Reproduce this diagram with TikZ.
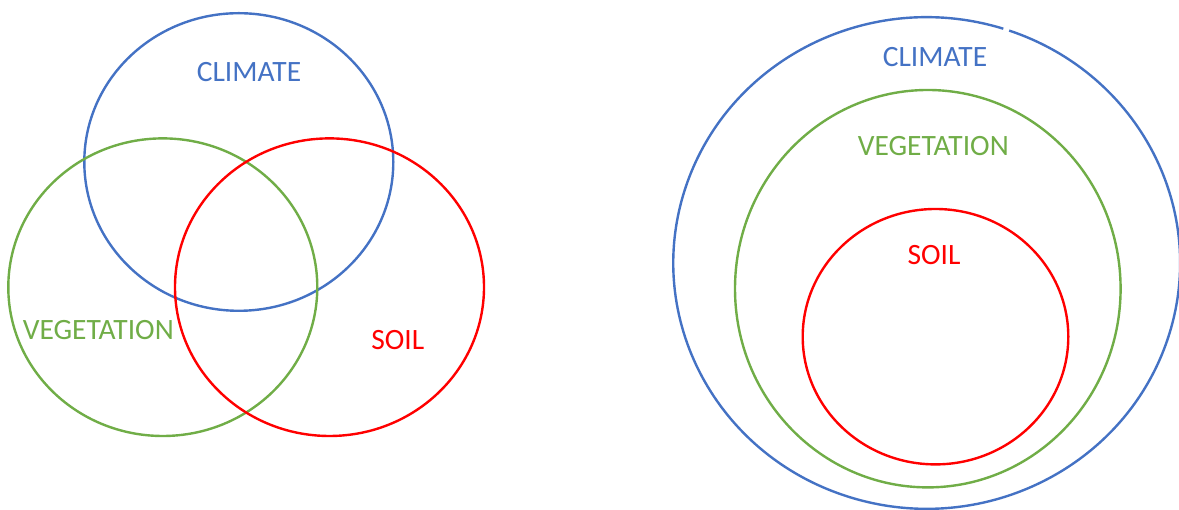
\documentclass[tikz,border=0pt]{standalone}
\usepackage{fontspec}
\setmainfont{Carlito}
\definecolor{cblue}{HTML}{4472C4}
\definecolor{cgreen}{HTML}{70AD47}
\definecolor{cred}{HTML}{FF0000}
\begin{document}
\begin{tikzpicture}[x=1pt,y=1pt,
  ring/.style={line width=2.4pt},
  lbl/.style={inner sep=0pt,font=\fontsize{29.5}{35}\selectfont}]
\useasboundingbox (0,0) rectangle (1179,510);
% left Venn diagram
\draw[ring,cblue] (238.8,348) ellipse [x radius=154.5, y radius=148.8];
\draw[ring,cgreen] (162.8,222.8) ellipse [x radius=154.5, y radius=148.8];
\draw[ring,cred] (329.5,222.8) ellipse [x radius=154.5, y radius=148.8];
\node[lbl,text=cblue] (lclimate) at (249,438) {CLIMATE};
\node[lbl,text=cgreen] (lveg) at (98.3,180.3) {VEGETATION};
\node[lbl,text=cred] (lsoil) at (397.8,170.3) {SOIL};
% right nested diagram
\draw[ring,cblue] (926.7,247) ++(72.4:253.4 and 245.8)
  arc[start angle=72.4, end angle=431, x radius=253.4, y radius=245.8];
\draw[ring,cgreen] (927.8,221.3) ellipse [x radius=192.8, y radius=198.7];
\draw[ring,cred] (935.5,173.3) ellipse [x radius=132.8, y radius=127.7];
\node[lbl,text=cblue] (rclimate) at (935,453.3) {CLIMATE};
\node[lbl,text=cgreen] (rveg) at (933.3,364) {VEGETATION};
\node[lbl,text=cred] (rsoil) at (934,255) {SOIL};
\end{tikzpicture}
\end{document}
